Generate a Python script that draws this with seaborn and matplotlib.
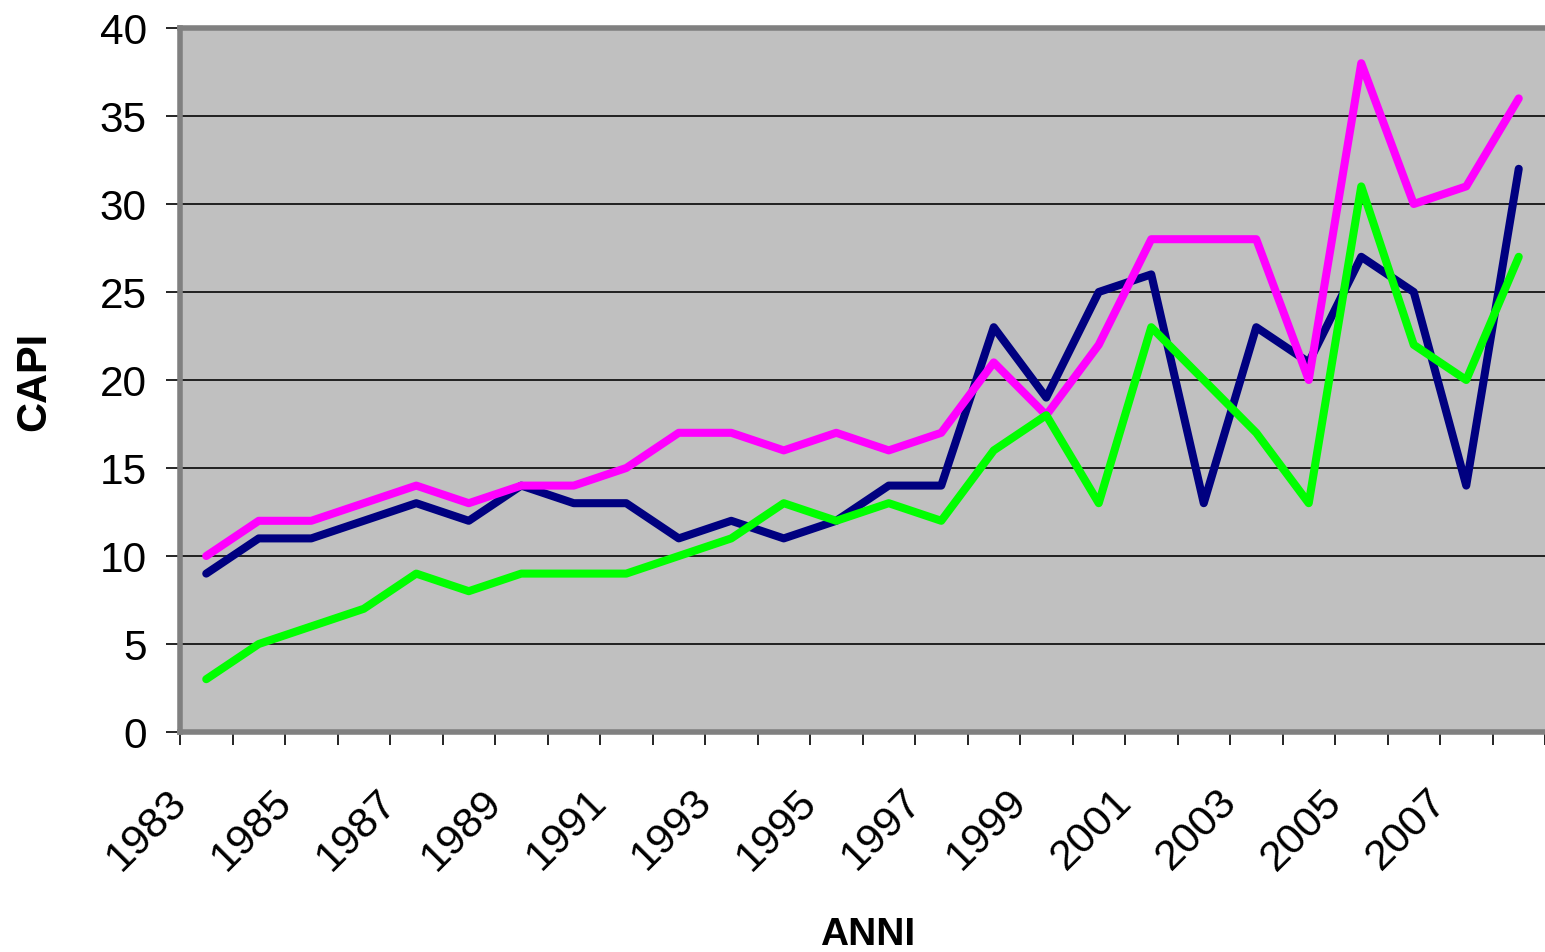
import matplotlib
matplotlib.use("Agg")
import matplotlib.pyplot as plt
import matplotlib.transforms as mtransforms
import seaborn as sns
import pandas as pd
import numpy as np

years = list(range(1983, 2009))
serie_blu = [9, 11, 11, 12, 13, 12, 14, 13, 13, 11, 12, 11, 12, 14, 14,
             23, 19, 25, 26, 13, 23, 21, 27, 25, 14, 32]
serie_magenta = [10, 12, 12, 13, 14, 13, 14, 14, 15, 17, 17, 16, 17, 16, 17,
                 21, 18, 22, 28, 28, 28, 20, 38, 30, 31, 36]
serie_verde = [3, 5, 6, 7, 9, 8, 9, 9, 9, 10, 11, 13, 12, 13, 12,
               16, 18, 13, 23, 20, 17, 13, 31, 22, 20, 27]
tick_labels = [str(y) for y in years[::2]]

series_names = ["blu", "magenta", "verde"]
colors = {"blu": "#000080", "magenta": "#FF00FF", "verde": "#00FF00"}

rows = []
for name, vals in zip(series_names, [serie_blu, serie_magenta, serie_verde]):
    for i, v in enumerate(vals):
        rows.append({"idx": i, "anno": years[i], "capi": v, "serie": name})
df = pd.DataFrame(rows)

sns.set_style("white")
plt.rcParams["font.family"] = ["Liberation Sans", "DejaVu Sans"]
plt.rcParams["text.color"] = "black"
plt.rcParams["axes.labelcolor"] = "black"
plt.rcParams["xtick.color"] = "black"
plt.rcParams["ytick.color"] = "black"

fig = plt.figure(figsize=(15.45, 9.53), dpi=100)
ax = fig.add_axes([180 / 1545, 1 - 733 / 953, (1545 - 180) / 1545, (733 - 29) / 953])
ax.set_facecolor("#C0C0C0")

sns.lineplot(data=df, x="idx", y="capi", hue="serie", palette=colors,
             linewidth=5.8, legend=False, ax=ax, zorder=3,
             solid_capstyle="round", solid_joinstyle="round")

ax.set_xlim(-0.5, 25.42)
ax.set_ylim(0, 40)
ax.set_yticks(np.arange(0, 41, 5))
ax.yaxis.grid(True, color="#202020", linewidth=1.4, zorder=1)
ax.xaxis.grid(False)

ax.set_xticks(np.arange(0, 26, 2))
ax.set_xticklabels(tick_labels, rotation=45, ha="right", va="top",
                   rotation_mode="anchor", fontsize=31, color="black")
ax.set_xticks(np.arange(-0.5, 26, 1), minor=True)
ax.tick_params(axis="x", which="major", length=0, pad=0)
ax.tick_params(axis="x", which="minor", length=9, width=1.2, color="black",
               direction="out", bottom=True)
ax.tick_params(axis="y", which="major", length=10, width=1.2, color="black",
               direction="out", left=True, labelsize=30.5, pad=14,
               labelcolor="black")

offset = mtransforms.ScaledTranslation(-0.40, -0.49, fig.dpi_scale_trans)
for lab in ax.get_xticklabels():
    lab.set_transform(lab.get_transform() + offset)

for side in ["left", "top", "bottom"]:
    ax.spines[side].set_visible(True)
    ax.spines[side].set_color("#808080")
    ax.spines[side].set_linewidth(4)
ax.spines["right"].set_visible(False)

ax.set_xlabel("ANNI", fontsize=28, fontweight="bold", color="black")
ax.set_ylabel("CAPI", fontsize=30, fontweight="bold", color="black")
ax.xaxis.set_label_coords((868 - 180) / 1365, (733 - 917) / 704)
ax.yaxis.set_label_coords((54 - 180) / 1365, (733 - 381) / 704)

fig.savefig("out.png", dpi=100)
